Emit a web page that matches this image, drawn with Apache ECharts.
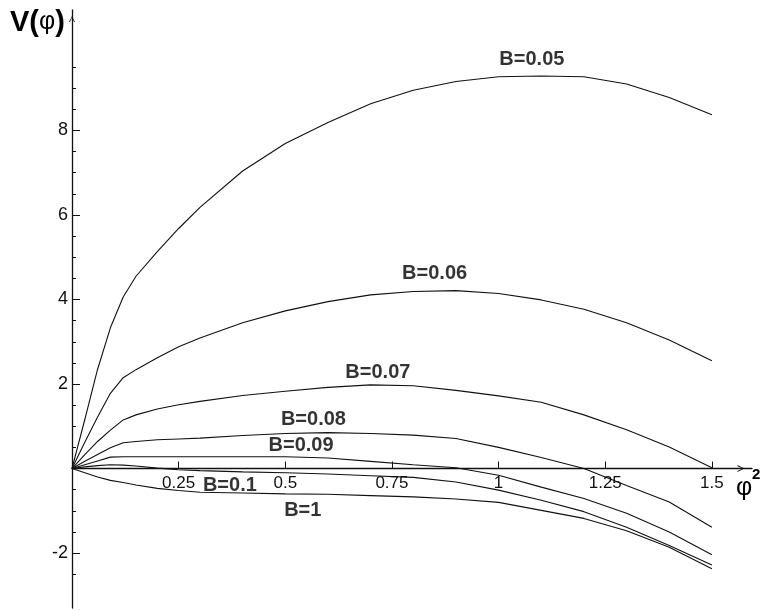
<!DOCTYPE html>
<html>
<head>
<meta charset="utf-8">
<title>V(φ)</title>
<script src="https://cdn.jsdelivr.net/npm/echarts@6/dist/echarts.min.js"></script>
<style>
  html, body { margin: 0; padding: 0; background: #fff; }
  #main { width: 763px; height: 610px; }
</style>
</head>
<body>
<div id="main"></div>
<script>
// φ² sample points shared by every curve
const phi2 = [0, 0.03, 0.06, 0.09, 0.12, 0.15, 0.2, 0.25, 0.3, 0.4, 0.5, 0.6, 0.7, 0.8, 0.9, 1.0, 1.1, 1.2, 1.3, 1.4, 1.5];

// V(φ), one array per B
const vB005 = [0, 1.16, 2.35, 3.33, 4.06, 4.55, 5.13, 5.68, 6.18, 7.04, 7.69, 8.19, 8.63, 8.95, 9.16, 9.27, 9.29, 9.27, 9.10, 8.78, 8.37];
const vB006 = [0, 0.62, 1.22, 1.78, 2.15, 2.34, 2.62, 2.88, 3.09, 3.45, 3.73, 3.95, 4.11, 4.19, 4.21, 4.14, 3.99, 3.77, 3.45, 3.04, 2.55];
const vB007 = [0, 0.33, 0.64, 0.91, 1.15, 1.27, 1.41, 1.51, 1.59, 1.73, 1.83, 1.92, 1.98, 1.96, 1.85, 1.72, 1.57, 1.27, 0.92, 0.51, 0.02];
const vB008 = [0, 0.17, 0.33, 0.49, 0.61, 0.64, 0.68, 0.70, 0.72, 0.78, 0.83, 0.85, 0.83, 0.79, 0.71, 0.50, 0.26, 0.00, -0.40, -0.79, -1.39];
const vB009 = [0, 0.09, 0.18, 0.27, 0.28, 0.28, 0.28, 0.28, 0.28, 0.28, 0.28, 0.25, 0.17, 0.09, 0.02, -0.16, -0.44, -0.71, -1.06, -1.50, -2.04];
const vB010 = [0, 0.04, 0.07, 0.09, 0.08, 0.06, 0.01, -0.03, -0.05, -0.08, -0.10, -0.13, -0.17, -0.21, -0.32, -0.51, -0.75, -1.02, -1.39, -1.82, -2.28];
const vB1 = [0, -0.10, -0.20, -0.28, -0.33, -0.39, -0.47, -0.52, -0.56, -0.58, -0.60, -0.61, -0.64, -0.67, -0.72, -0.80, -0.99, -1.18, -1.47, -1.86, -2.37];

const curves = [vB005, vB006, vB007, vB008, vB009, vB010, vB1];
const curveNames = ["B=0.05", "B=0.06", "B=0.07", "B=0.08", "B=0.09", "B=0.1", "B=1"];
// where each curve name is written, in (φ², V) units
const curveLabelAt = [[1.078, 9.67], [0.850, 4.62], [0.717, 2.28], [0.566, 1.16], [0.537, 0.55], [0.370, -0.40], [0.541, -1.00]];

// tick labels
const xTickLabels = [0.25, 0.5, 0.75, 1, 1.25, 1.5];
const yTickLabels = [-2, 2, 4, 6, 8];
const yMinorTicks = [-2.5, -1.5, -1, -0.5, 0.5, 1, 1.5, 2.5, 3, 3.5, 4.5, 5, 5.5, 6.5, 7, 7.5, 8.5, 9, 9.5];

const Y_MIN = -3.3;
const Y_MAX = 10.85;
const GRID_TOP = 10;
const GRID_BOTTOM = 2;
const HEIGHT = 610;

const INK = "#111";
const FONT = "'Liberation Sans', Arial, Helvetica, sans-serif";
// thin open arrow head, pointing up (echarts rotates it along the axis)
const ARROW = "path://M50,0 L100,100 L84,100 L50,22 L16,100 L0,100 Z";

// lift the x axis (line, ticks, labels) up to V = 0
const gridHeight = HEIGHT - GRID_TOP - GRID_BOTTOM;
const xAxisOffset = -((0 - Y_MIN) / (Y_MAX - Y_MIN)) * gridHeight;

const chart = echarts.init(document.getElementById("main"));

const lineSeries = curves.map((vals, i) => ({
  name: curveNames[i],
  type: "line",
  data: phi2.map((x, k) => [x, vals[k]]),
  symbol: "none",
  smooth: false,
  lineStyle: { color: INK, width: 1.1 },
  z: 3,
}));

const option = {
  animation: false,
  backgroundColor: "#fff",
  grid: {
    left: 72,
    right: 11,
    top: GRID_TOP,
    bottom: GRID_BOTTOM,
    containLabel: false,
    outerBoundsMode: "none",
  },
  xAxis: {
    type: "value",
    position: "bottom",
    offset: xAxisOffset,
    min: 0,
    max: 1.594,
    axisLine: {
      show: true,
      onZero: false,
      symbol: ["none", ARROW],
      symbolSize: [7, 22],
      symbolOffset: [0, -11],
      lineStyle: { color: INK, width: 1.3 },
    },
    axisTick: {
      show: true,
      inside: true,
      length: 7,
      customValues: xTickLabels,
      lineStyle: { color: INK, width: 1 },
    },
    axisLabel: {
      show: true,
      customValues: xTickLabels,
      margin: 6,
      color: "#111",
      fontSize: 17,
      fontFamily: FONT,
      formatter: (v) => String(v),
    },
    splitLine: { show: false },
  },
  yAxis: [
    {
      type: "value",
      position: "left",
      min: Y_MIN,
      max: Y_MAX,
      axisLine: {
        show: true,
        onZero: false,
        symbol: ["none", ARROW],
        symbolSize: [6, 18],
        symbolOffset: [0, -9],
        lineStyle: { color: INK, width: 1.3 },
      },
      axisTick: {
        show: true,
        inside: true,
        length: 8,
        customValues: yTickLabels,
        lineStyle: { color: INK, width: 1 },
      },
      axisLabel: {
        show: true,
        customValues: yTickLabels,
        margin: 4,
        color: "#111",
        fontSize: 18,
        fontFamily: FONT,
      },
      splitLine: { show: false },
    },
    {
      // minor ticks only
      type: "value",
      position: "left",
      min: Y_MIN,
      max: Y_MAX,
      axisLine: { show: false, onZero: false },
      axisTick: {
        show: true,
        inside: true,
        length: 4,
        customValues: yMinorTicks,
        lineStyle: { color: INK, width: 1 },
      },
      axisLabel: { show: false },
      splitLine: { show: false },
    },
  ],
  graphic: [
    {
      type: "text",
      left: 10,
      top: 8,
      style: {
        text: "{b|V(}{p|φ}{b|)}",
        rich: {
          b: { fontSize: 29, fontWeight: "bold", fontFamily: FONT, fill: "#000" },
          p: { fontSize: 25, fontFamily: FONT, fill: "#000" },
        },
      },
    },
    {
      type: "text",
      left: 736,
      top: 476,
      style: { text: "φ", fontSize: 25, fontFamily: FONT, fill: "#000" },
    },
    {
      type: "text",
      left: 752,
      top: 467,
      style: { text: "2", fontSize: 15, fontWeight: "bold", fontFamily: FONT, fill: "#000" },
    },
  ],
  series: [
    ...lineSeries,
    {
      // curve names
      type: "scatter",
      symbolSize: 0,
      silent: true,
      z: 5,
      data: curveLabelAt.map((p, i) => ({ name: curveNames[i], value: p })),
      label: {
        show: true,
        position: "inside",
        formatter: (p) => p.name,
        color: "#000",
        fontSize: 20,
        fontWeight: "bold",
        fontFamily: FONT,
      },
    },
  ],
};

chart.setOption(option);
</script>
</body>
</html>
